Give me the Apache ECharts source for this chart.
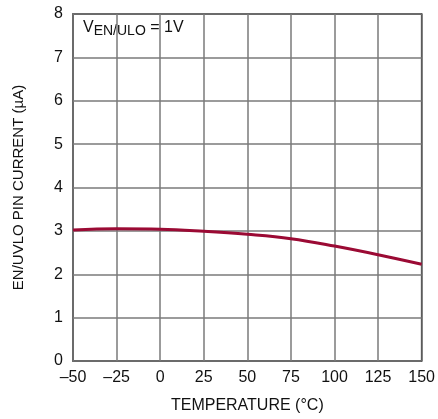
<!DOCTYPE html>
<html><head><meta charset="utf-8">
<script src="https://cdn.jsdelivr.net/npm/echarts@6/dist/echarts.min.js"></script>
<style>html,body{margin:0;padding:0;background:#fff}#c{width:438px;height:419px}</style>
</head><body><div id="c"></div>
<script>
const temps = [-50, -25, 0, 25, 50, 75, 100, 125, 150];
const current = [3.02, 3.05, 3.04, 2.99, 2.92, 2.82, 2.65, 2.45, 2.23];
const xTicks = [-50, 150, 25];
const yTicks = [0, 8, 1];
const font = '"Liberation Sans Narrow", "Liberation Sans", Arial, sans-serif';
const chart = echarts.init(document.getElementById('c'));
chart.setOption({
  animation: false,
  grid: {left: 73, top: 14, width: 351, height: 349, show: true, borderColor: '#000', borderWidth: 1.5},
  xAxis: {type: 'value', min: xTicks[0], max: xTicks[1], interval: xTicks[2],
    axisLine: {show: false}, axisTick: {show: false},
    splitLine: {lineStyle: {color: '#7a7a7a', width: 1.5}},
    axisLabel: {color: '#111', fontSize: 16, fontFamily: font, margin: 9,
      formatter: v => v < 0 ? '\u2013' + Math.abs(v) : String(v)},
    name: 'TEMPERATURE (\u00B0C)', nameLocation: 'middle', nameGap: 37,
    nameTextStyle: {color: '#111', fontSize: 16, fontFamily: font}},
  yAxis: {type: 'value', min: yTicks[0], max: yTicks[1], interval: yTicks[2],
    axisLine: {show: false}, axisTick: {show: false},
    splitLine: {lineStyle: {color: '#7a7a7a', width: 1.5}},
    axisLabel: {color: '#111', fontSize: 16, fontFamily: font, margin: 10},
    name: 'EN/UVLO PIN CURRENT (\u00B5A)', nameLocation: 'middle', nameGap: 47,
    nameTextStyle: {color: '#111', fontSize: 15, fontFamily: font}},
  series: [{type: 'line', data: temps.map((t, i) => [t, current[i]]), smooth: 0.4,
    showSymbol: false, lineStyle: {color: '#9b0a34', width: 3}}],
  graphic: [{type: 'text', left: 83, top: 20,
    style: {text: '{m|V}{s|EN/ULO}{m| = 1V}', fill: '#111',
      rich: {m: {fontSize: 16, fontFamily: font, fill: '#111'},
             s: {fontSize: 14, fontFamily: font, fill: '#111', padding: [7, 0, 0, 0]}}}}]
});
</script></body></html>
